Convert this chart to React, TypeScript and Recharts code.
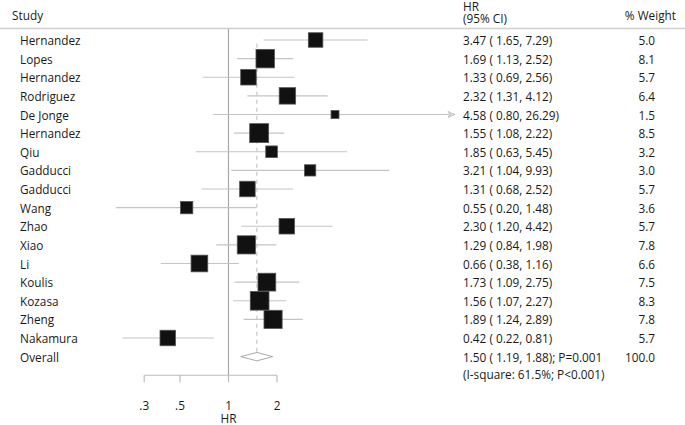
import React from 'react';
import { ScatterChart, Scatter, XAxis, YAxis, ErrorBar, ReferenceLine } from 'recharts';

const studies = ['Hernandez','Lopes','Hernandez','Rodriguez','De Jonge','Hernandez','Qiu','Gadducci','Gadducci','Wang','Zhao','Xiao','Li','Koulis','Kozasa','Zheng','Nakamura'];
const hrValues = [3.47,1.69,1.33,2.32,4.58,1.55,1.85,3.21,1.31,0.55,2.30,1.29,0.66,1.73,1.56,1.89,0.42];
const ciLow = [1.65,1.13,0.69,1.31,0.80,1.08,0.63,1.04,0.68,0.20,1.20,0.84,0.38,1.09,1.07,1.24,0.22];
const ciHigh = [7.29,2.52,2.56,4.12,26.29,2.22,5.45,9.93,2.52,1.48,4.42,1.98,1.16,2.75,2.27,2.89,0.81];
const weights = [5.0,8.1,5.7,6.4,1.5,8.5,3.2,3.0,5.7,3.6,5.7,7.8,6.6,7.5,8.3,7.8,5.7];

const overallHR = 1.50;
const overallLow = 1.19;
const overallHigh = 1.88;
const overallP = '0.001';
const overallWeight = 100.0;
const heterogeneity = '(I-square: 61.5%; P<0.001)';

const xTicks = [0.3, 0.5, 1, 2];
const xTickLabels = ['.3', '.5', '1', '2'];

const X_MIN = Math.exp((100 - 228.5) / 70);
const X_MAX = Math.exp((455 - 228.5) / 70);
const OVERALL_ROW = studies.length + 1;
const FONT = '"Open Sans", sans-serif';
const FS = 11.8;

const f2 = (v: number) => v.toFixed(2);

const rows = studies.map((s, i) => {
  const hiClip = Math.min(ciHigh[i], X_MAX);
  return {
    x: hrValues[i],
    y: i + 1,
    w: weights[i],
    err: [hrValues[i] - ciLow[i], hiClip - hrValues[i]],
  };
});

const arrows = studies
  .map((s, i) => ({ x: X_MAX, y: i + 1, over: ciHigh[i] > X_MAX }))
  .filter((d) => d.over);

const dH = 4.2 / 18.625;
const diamond = [
  { x: overallLow, y: OVERALL_ROW },
  { x: overallHR, y: OVERALL_ROW - dH },
  { x: overallHigh, y: OVERALL_ROW },
  { x: overallHR, y: OVERALL_ROW + dH },
  { x: overallLow, y: OVERALL_ROW },
];

const yTicks = Array.from({ length: OVERALL_ROW + 1 }, (_, i) => i);

const SquareShape = (props: any) => {
  const { cx, cy, payload } = props;
  const s = 6.5 * Math.sqrt(payload.w);
  return <rect x={cx - s / 2} y={cy - s / 2} width={s} height={s} fill="#111" stroke="#555" strokeWidth={0.8} />;
};

const ArrowShape = (props: any) => {
  const { cx, cy } = props;
  return <polygon points={`${cx - 7},${cy - 3} ${cx},${cy} ${cx - 7},${cy + 3} ${cx - 5},${cy}`} fill="#ddd" stroke="#bbb" strokeWidth={0.8} />;
};

const common = { fontFamily: FONT, fontSize: FS, fill: '#1a1a1a' } as any;
const X_STUDY = 12;
const X_NAME = 20;
const X_HR = 463;
const X_W = 655;
const X_WHEAD = 676;

const RowTick = (props: any) => {
  const { y, payload } = props;
  const v = payload.value;
  if (v === 0) {
    return (
      <g>
        <text x={X_STUDY} y={y - 6.5} dominantBaseline="central" {...common}>Study</text>
        <text x={X_HR} y={y - 15} dominantBaseline="central" {...common}>HR</text>
        <text x={X_HR} y={y - 3.5} dominantBaseline="central" {...common}>(95% CI)</text>
        <text x={X_WHEAD} y={y - 6.5} textAnchor="end" dominantBaseline="central" {...common}>% Weight</text>
        <line x1={0} x2={685} y1={28.5} y2={28.5} stroke="#cfcfcf" strokeWidth={1.5} />
      </g>
    );
  }
  if (v === OVERALL_ROW) {
    return (
      <g>
        <text x={X_NAME} y={y} dominantBaseline="central" {...common}>Overall</text>
        <text x={X_HR} y={y} dominantBaseline="central" {...common}>{`${f2(overallHR)} ( ${f2(overallLow)}, ${f2(overallHigh)}); P=${overallP}`}</text>
        <text x={X_HR} y={y + 17} dominantBaseline="central" {...common}>{heterogeneity}</text>
        <text x={X_W} y={y} textAnchor="end" dominantBaseline="central" {...common}>{overallWeight.toFixed(1)}</text>
      </g>
    );
  }
  const i = v - 1;
  return (
    <g>
      <text x={X_NAME} y={y} dominantBaseline="central" {...common}>{studies[i]}</text>
      <text x={X_HR} y={y} dominantBaseline="central" {...common}>{`${f2(hrValues[i])} ( ${f2(ciLow[i])}, ${f2(ciHigh[i])})`}</text>
      <text x={X_W} y={y} textAnchor="end" dominantBaseline="central" {...common}>{weights[i].toFixed(1)}</text>
    </g>
  );
};

const XTick = (props: any) => {
  const { x, payload } = props;
  const idx = xTicks.indexOf(payload.value);
  return (
    <g>
      <text x={x} y={405} textAnchor="middle" dominantBaseline="central" {...common}>{xTickLabels[idx]}</text>
      {payload.value === 1 && (
        <text x={x} y={417.5} textAnchor="middle" dominantBaseline="central" {...common}>HR</text>
      )}
    </g>
  );
};

export default function App() {
  return (
    <div style={{ position: 'absolute', left: 0, top: 0, width: 685, height: 425, background: '#fff' }}>
      <ScatterChart width={685} height={425} margin={{ top: 21.375, right: 230, bottom: 0, left: 0 }}>
        <XAxis
          type="number"
          dataKey="x"
          scale="log"
          domain={[X_MIN, X_MAX]}
          ticks={xTicks}
          interval={0}
          axisLine={false}
          tickLine={{ stroke: '#bbb', strokeWidth: 1.2 }}
          tickSize={7}
          tick={<XTick />}
          height={49.75}
        />
        <YAxis
          yAxisId="l"
          type="number"
          dataKey="y"
          domain={[0, OVERALL_ROW + 1]}
          reversed
          ticks={yTicks}
          interval={0}
          axisLine={false}
          tickLine={false}
          width={100}
          tick={<RowTick />}
        />
        <ReferenceLine yAxisId="l" segment={[{ x: 1, y: 0.35 }, { x: 1, y: OVERALL_ROW + 1 }]} stroke="#a8a8a8" strokeWidth={1.2} />
        <ReferenceLine yAxisId="l" segment={[{ x: xTicks[0], y: OVERALL_ROW + 1 }, { x: xTicks[xTicks.length - 1], y: OVERALL_ROW + 1 }]} stroke="#bbb" strokeWidth={1.2} />
        <ReferenceLine yAxisId="l" segment={[{ x: overallHR, y: 1.2 }, { x: overallHR, y: OVERALL_ROW - dH }]} stroke="#bbb" strokeWidth={1} strokeDasharray="4 4" />
        <Scatter yAxisId="l" data={rows} shape={<SquareShape />} isAnimationActive={false}>
          <ErrorBar dataKey="err" direction="x" width={0} stroke="#c4c4c4" strokeWidth={1.2} isAnimationActive={false} />
        </Scatter>
        <Scatter yAxisId="l" data={arrows} shape={<ArrowShape />} isAnimationActive={false} />
        <Scatter yAxisId="l" data={diamond} line={{ stroke: '#aaa', strokeWidth: 1 }} lineType="joint" shape={() => null} isAnimationActive={false} />
      </ScatterChart>
    </div>
  );
}
